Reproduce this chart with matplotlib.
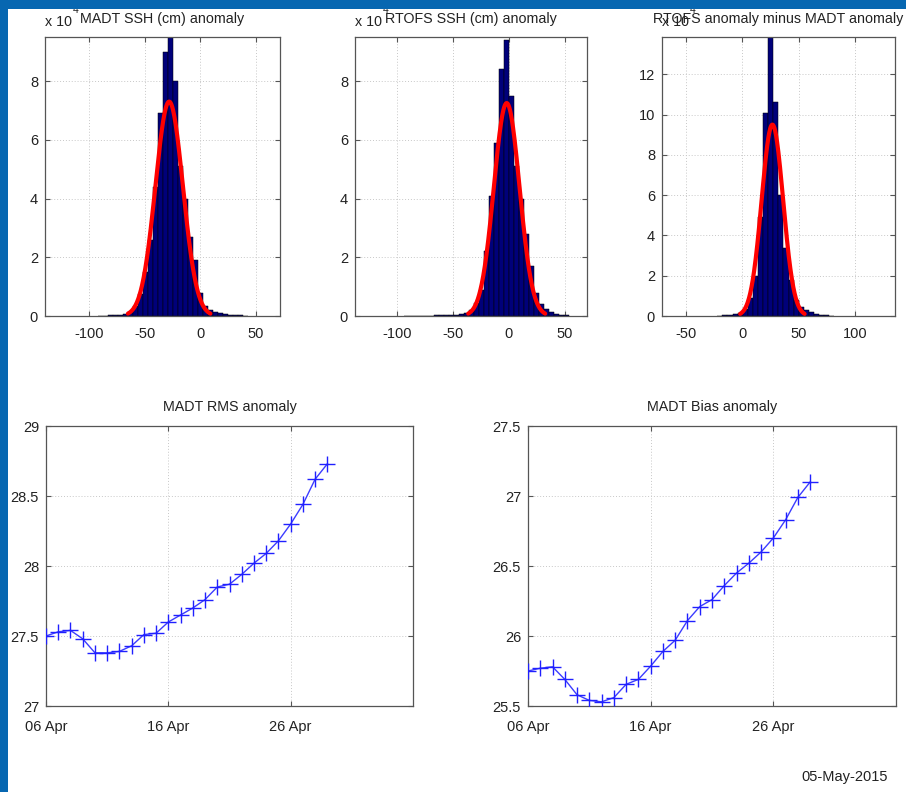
import numpy as np
import matplotlib
matplotlib.use("Agg")
import matplotlib.pyplot as plt
from matplotlib.patches import Rectangle
import datetime as dt

plt.rcParams['font.family'] = ['Liberation Sans', 'DejaVu Sans']

# ---------------- data ----------------
bin_width = 4.5

madt_centers = [-89.8, -85.3, -80.8, -76.3, -71.8, -67.3, -62.8, -58.3, -53.8, -49.3,
                -44.8, -40.3, -35.8, -31.3, -26.8, -22.3, -17.8, -13.3, -8.8, -4.3,
                0.2, 4.7, 9.2, 13.7, 18.2, 22.7, 27.2, 31.7, 36.2, 40.7]
madt_counts = [0.01, 0.01, 0.02, 0.03, 0.05, 0.08, 0.15, 0.35, 0.75, 1.5,
               2.6, 4.4, 6.9, 9.0, 10.2, 8.0, 5.1, 4.0, 2.7, 1.9,
               0.8, 0.35, 0.2, 0.15, 0.1, 0.07, 0.05, 0.03, 0.02, 0.01]
madt_fit = {'mu': -28.0, 'sigma': 12.4, 'peak': 7.3}

rtofs_centers = [-92.25, -87.75, -83.25, -78.75, -74.25, -69.75, -65.25, -60.75, -56.25,
                 -51.75, -47.25, -42.75, -38.25, -33.75, -29.25, -24.75, -20.25, -15.75,
                 -11.25, -6.75, -2.25, 2.25, 6.75, 11.25, 15.75, 20.25, 24.75, 29.25,
                 33.75, 38.25, 42.75, 47.25, 51.75]
rtofs_counts = [0.01, 0.01, 0.01, 0.01, 0.01, 0.01, 0.02, 0.02, 0.02,
                0.03, 0.04, 0.06, 0.1, 0.2, 0.45, 0.9, 2.2, 4.1,
                5.9, 8.4, 9.4, 7.5, 5.1, 4.0, 2.8, 1.7, 0.8, 0.4,
                0.25, 0.15, 0.08, 0.04, 0.02]
rtofs_fit = {'mu': -2.0, 'sigma': 11.5, 'peak': 7.25}

diff_centers = [-19.9, -15.4, -10.9, -6.4, -1.9, 2.6, 7.1, 11.6, 16.1, 20.6, 25.1,
                29.6, 34.1, 38.6, 43.1, 47.6, 52.1, 56.6, 61.1, 65.6, 70.1, 74.6, 79.1]
diff_counts = [0.02, 0.03, 0.05, 0.08, 0.15, 0.35, 0.9, 2.0, 4.9, 10.1, 14.5,
               10.6, 6.0, 3.4, 1.8, 0.8, 0.45, 0.3, 0.2, 0.12, 0.07, 0.04, 0.02]
diff_fit = {'mu': 26.6, 'sigma': 9.5, 'peak': 9.5}

dates = ['2015-04-06', '2015-04-07', '2015-04-08', '2015-04-09', '2015-04-10',
         '2015-04-11', '2015-04-12', '2015-04-13', '2015-04-14', '2015-04-15',
         '2015-04-16', '2015-04-17', '2015-04-18', '2015-04-19', '2015-04-20',
         '2015-04-21', '2015-04-22', '2015-04-23', '2015-04-24', '2015-04-25',
         '2015-04-26', '2015-04-27', '2015-04-28', '2015-04-29']
rms_values = [27.50, 27.53, 27.54, 27.48, 27.38, 27.38, 27.39, 27.43, 27.51, 27.52,
              27.60, 27.65, 27.70, 27.76, 27.85, 27.87, 27.94, 28.02, 28.09, 28.18,
              28.30, 28.44, 28.62, 28.73]
bias_values = [25.75, 25.77, 25.78, 25.69, 25.58, 25.54, 25.53, 25.56, 25.655, 25.69,
               25.785, 25.89, 25.97, 26.11, 26.21, 26.26, 26.36, 26.45, 26.52, 26.60,
               26.70, 26.83, 26.99, 27.10]

date_tick_labels = ['06 Apr', '16 Apr', '26 Apr']
stamp = '05-May-2015'

# ---------------- figure ----------------
W, H = 906, 792
fig = plt.figure(figsize=(W / 100, H / 100), dpi=100)
fig.patch.set_facecolor('white')

# blue frame
border = '#0767B1'
fig.patches.append(Rectangle((0, 1 - 9 / H), 1, 9 / H, transform=fig.transFigure,
                             facecolor=border, edgecolor='none', zorder=0))
fig.patches.append(Rectangle((0, 0), 8 / W, 1, transform=fig.transFigure,
                             facecolor=border, edgecolor='none', zorder=0))


def px_axes(l, r, t, b):
    return fig.add_axes([l / W, 1 - b / H, (r - l) / W, (b - t) / H])


box_color = '#555555'
TICK_FS = 10.5
TITLE_FS = 10.3
TXT = '#222222'


def style(ax):
    for s in ax.spines.values():
        s.set_color(box_color)
        s.set_linewidth(0.9)
    ax.tick_params(direction='in', length=3.5, width=0.8, color=box_color,
                   top=True, right=True, labelsize=TICK_FS, labelcolor=TXT, pad=5)
    ax.grid(True, linestyle=(0, (1, 2)), color='#c8c8c8', linewidth=0.7)
    ax.set_axisbelow(True)


def hist_panel(ax, centers, counts, fit, xlim, ylim, xticks, yticks, title):
    style(ax)
    ax.tick_params(axis='x', pad=8)
    ax.bar(centers, counts, width=bin_width, color='#00007A', edgecolor='#000000',
           linewidth=0.35, zorder=2)
    xs = np.linspace(fit['mu'] - 3 * fit['sigma'], fit['mu'] + 3 * fit['sigma'], 200)
    ys = fit['peak'] * np.exp(-0.5 * ((xs - fit['mu']) / fit['sigma']) ** 2)
    ax.plot(xs, ys, color='#ff0000', linewidth=3, zorder=3, solid_capstyle='round')
    ax.set_xlim(*xlim)
    ax.set_ylim(*ylim)
    ax.set_xticks(xticks)
    ax.set_yticks(yticks)
    ax.set_xticklabels([str(v) for v in xticks])
    ax.set_yticklabels([str(v) for v in yticks])
    ax.set_title(title, fontsize=TITLE_FS, pad=10, color=TXT)
    ax.text(0.0, 1.03, 'x 10', transform=ax.transAxes, fontsize=TITLE_FS,
            ha='left', va='bottom', color=TXT)
    ax.text(0.118, 1.078, '4', transform=ax.transAxes, fontsize=7.5,
            ha='left', va='bottom', color=TXT)


ax1 = px_axes(45, 280, 37, 316)
hist_panel(ax1, madt_centers, madt_counts, madt_fit, (-140, 72), (0, 9.5),
           [-100, -50, 0, 50], [0, 2, 4, 6, 8], 'MADT SSH (cm) anomaly')

ax2 = px_axes(355, 587, 37, 316)
hist_panel(ax2, rtofs_centers, rtofs_counts, rtofs_fit, (-138, 70), (0, 9.5),
           [-100, -50, 0, 50], [0, 2, 4, 6, 8], 'RTOFS SSH (cm) anomaly')

ax3 = px_axes(662, 895, 37, 316)
hist_panel(ax3, diff_centers, diff_counts, diff_fit, (-71, 135), (0, 13.85),
           [-50, 0, 50, 100], [0, 2, 4, 6, 8, 10, 12], 'RTOFS anomaly minus MADT anomaly')

dts = [dt.datetime.strptime(d, '%Y-%m-%d') for d in dates]
x0 = dt.datetime(2015, 4, 6)
x1 = dt.datetime(2015, 5, 6)
tick_dates = [dt.datetime(2015, 4, 6), dt.datetime(2015, 4, 16), dt.datetime(2015, 4, 26)]


def line_panel(ax, values, ylim, yticks, title):
    style(ax)
    ax.plot(dts, values, color='#3c3cff', linewidth=1.0, marker='+', markersize=11,
            markeredgewidth=1.0, markeredgecolor='#2020ff', zorder=3, clip_on=True)
    ax.set_xlim(x0, x1)
    ax.set_ylim(*ylim)
    ax.set_xticks(tick_dates)
    ax.set_xticklabels(date_tick_labels)
    ax.set_yticks(yticks)
    ax.set_yticklabels([('%g' % v) for v in yticks])
    ax.set_title(title, fontsize=TITLE_FS, pad=11, color=TXT)
    ax.tick_params(axis='x', pad=10)


ax4 = px_axes(46, 413, 426, 706)
line_panel(ax4, rms_values, (27, 29), [27, 27.5, 28, 28.5, 29], 'MADT RMS anomaly')

ax5 = px_axes(528, 896, 426, 706)
line_panel(ax5, bias_values, (25.5, 27.5), [25.5, 26, 26.5, 27, 27.5], 'MADT Bias anomaly')

fig.text(888 / W, 1 - 777 / H, stamp, ha='right', va='center', fontsize=10.5, color=TXT)

fig.savefig('out.png', dpi=100, facecolor='white')
